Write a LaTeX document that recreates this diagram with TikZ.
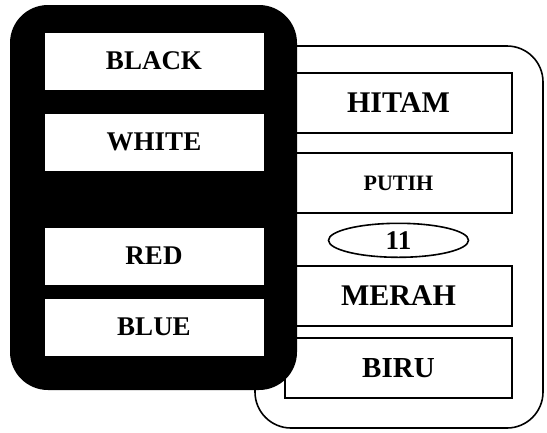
\documentclass[tikz,border=0pt]{standalone}
\usepackage{fontspec}
\setmainfont{Liberation Serif}
\usetikzlibrary{positioning,shapes.geometric}

\tikzset{
    word/.style={font=\bfseries\fontsize{27}{32}\selectfont},
    leftbox/.style={draw, fill=white, line width=1pt, outer sep=0pt,
        minimum width=220pt, minimum height=58pt, word},
    rightbox/.style={draw, fill=white, line width=1.6pt, outer sep=0pt,
        minimum width=227pt, minimum height=60pt, word},
}

\begin{document}
\begin{tikzpicture}[x=1pt, y=-1pt]
    \useasboundingbox (0,0) rectangle (547,432);

    % indonesian frame and words
    \node [draw, line width=1.6pt, fill=white, rounded corners=36pt,
        minimum width=288pt, minimum height=382pt] (indonesian) at (399,237) {};
    \node [rightbox, font=\bfseries\fontsize{30}{36}\selectfont] (hitam) at (398.5,103) {HITAM};
    \node [rightbox, below=20pt of hitam, font=\bfseries\fontsize{22}{26}\selectfont] (putih) {PUTIH};
    \node [rightbox, below=53pt of putih, font=\bfseries\fontsize{30}{36}\selectfont] (merah) {MERAH};
    \node [rightbox, below=12pt of merah, font=\bfseries\fontsize{29}{34}\selectfont] (biru) {BIRU};
    \node [draw, ellipse, line width=1.6pt, fill=white, inner sep=0pt,
        minimum width=140pt, minimum height=34pt, word,
        below=9.5pt of putih] (eleven) {11};

    % english frame and words
    \node [fill=black, rounded corners=38pt,
        minimum width=287pt, minimum height=385pt] (english) at (153.5,197.5) {};
    \node [leftbox] (black) at (154,61) {BLACK};
    \node [leftbox, below=23pt of black] (white) {WHITE};
    \node [leftbox, below=56pt of white] (red) {RED};
    \node [leftbox, below=13pt of red] (blue) {BLUE};
\end{tikzpicture}
\end{document}
